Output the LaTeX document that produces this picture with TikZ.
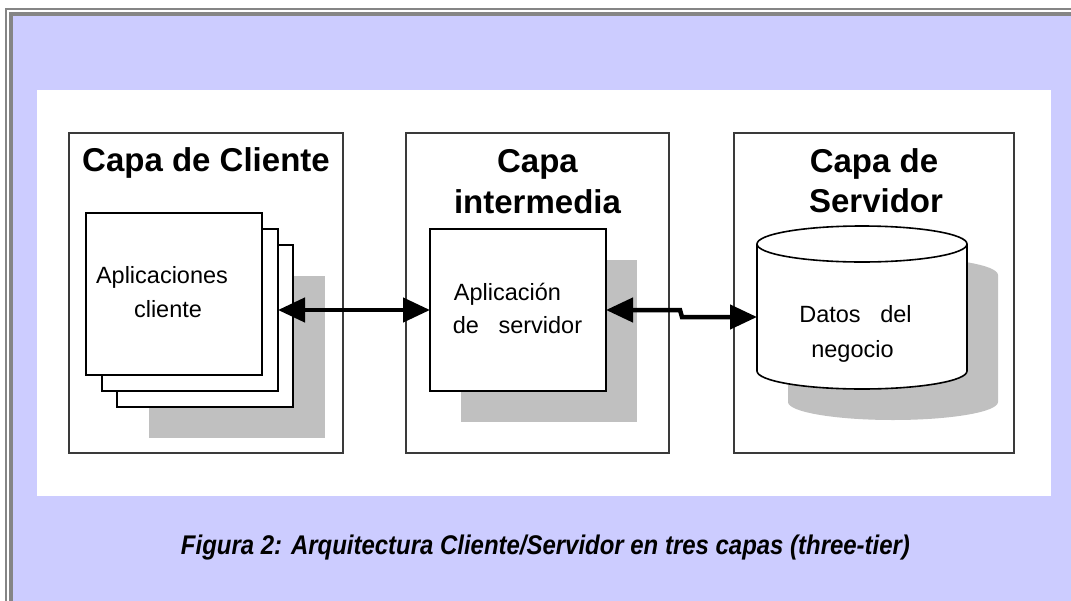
\documentclass[tikz,border=0pt]{standalone}
\usepackage{graphicx}
\usepackage{fontspec}
\setmainfont{Liberation Sans}
\usetikzlibrary{arrows.meta}
\definecolor{bgblue}{HTML}{CCCCFF}
\definecolor{framegray}{HTML}{858585}
\definecolor{shadowgray}{HTML}{C0C0C0}
\definecolor{boxline}{HTML}{3A3A3A}
\begin{document}
\begin{tikzpicture}[x=1pt,y=-1pt,
  tierbox/.style={draw=boxline, line width=2pt, fill=white, inner sep=0pt, outer sep=0pt, anchor=north west, minimum height=320pt},
  apppage/.style={draw=black, line width=1.8pt, fill=white, inner sep=0pt, outer sep=0pt, anchor=north west, minimum width=176pt, minimum height=162pt},
  dropshadow/.style={fill=shadowgray, draw=none},
  tiertitle/.style={anchor=base, inner sep=0pt, font=\fontsize{33}{40}\selectfont\bfseries},
  txt/.style={anchor=base, inner sep=0pt, font=\fontsize{23.5}{28}\selectfont},
  conn/.style={line width=4.5pt, {Triangle[length=27pt,width=24pt]}-{Triangle[length=27pt,width=24pt]}},
]
\useasboundingbox (0,0) rectangle (1071,600);
\clip (0,0) rectangle (1071,600);
% page frame
\fill[white] (0,0) rectangle (1071,600);
\fill[bgblue] (11,14) rectangle (1100,650);
\draw[framegray, line width=2pt] (6,9) rectangle (1100,650);
\draw[framegray, line width=4pt] (11,14) rectangle (1100,650);
% white panel
\fill[white] (37,90) rectangle (1051,496);

% tier boxes
\node[tierbox, minimum width=274pt] (client) at (69,132.5) {};
\node[tierbox, minimum width=263pt] (middle) at (406,132.5) {};
\node[tierbox, minimum width=280pt] (server) at (734,132.5) {};

\node[tiertitle] (t1) at (206,171) {Capa de Cliente};
\node[tiertitle] (t2a) at (537.5,172) {Capa};
\node[tiertitle] (t2b) at (537.5,213) {intermedia};
\node[tiertitle] (t3a) at (874,172) {Capa de};
\node[tiertitle] (t3b) at (876,212) {Servidor};

% client pages
\fill[dropshadow] (149,276) rectangle (325,438);
\node[apppage] (p3) at (117,245) {};
\node[apppage] (p2) at (102,229) {};
\node[apppage] (p1) at (86,213) {};
\node[txt] (c1) at (162,283) {Aplicaciones};
\node[txt] (c2) at (168,317) {cliente};

% middle application
\fill[dropshadow] (461,260) rectangle (637,422);
\node[apppage] (midapp) at (430,229) {};
\node[txt] (m1) at (507.5,300) {Aplicación};
\node[txt] (m2) at (517.5,333) {de~~~servidor};

% database cylinder
\fill[dropshadow] (788,275) -- (788,402) arc[start angle=180,end angle=0,x radius=105,y radius=18]
  -- (998,275) arc[start angle=0,end angle=-180,x radius=105,y radius=18] -- cycle;
\filldraw[fill=white, draw=black, line width=1.6pt] (757,244) -- (757,371) arc[start angle=180,end angle=0,x radius=105,y radius=18]
  -- (967,244) arc[start angle=0,end angle=-180,x radius=105,y radius=18] -- cycle;
\draw[black, line width=1.6pt] (757,244) arc[start angle=180,end angle=0,x radius=105,y radius=18];
\node[inner sep=0pt, outer sep=0pt, minimum width=210pt, minimum height=127pt] (db) at (862,317) {};
\node[txt] (d1) at (855.5,322) {Datos~~~del};
\node[txt] (d2) at (852.5,357) {negocio};

% connectors
\coordinate (j1) at (680,310);
\coordinate (j2) at (682,317);
\draw[conn] (p2.east) -- (midapp.west);
\draw[conn] (midapp.east) -- (j1) -- (j2) -- (db.west);

% caption
\node[anchor=base, inner sep=0pt] (cap) at (545.5,554.5) {\resizebox{729pt}{\height}{\fontsize{27}{32}\selectfont\bfseries\itshape Figura 2: Arquitectura Cliente/Servidor en tres capas (three-tier)}};
\end{tikzpicture}
\end{document}
